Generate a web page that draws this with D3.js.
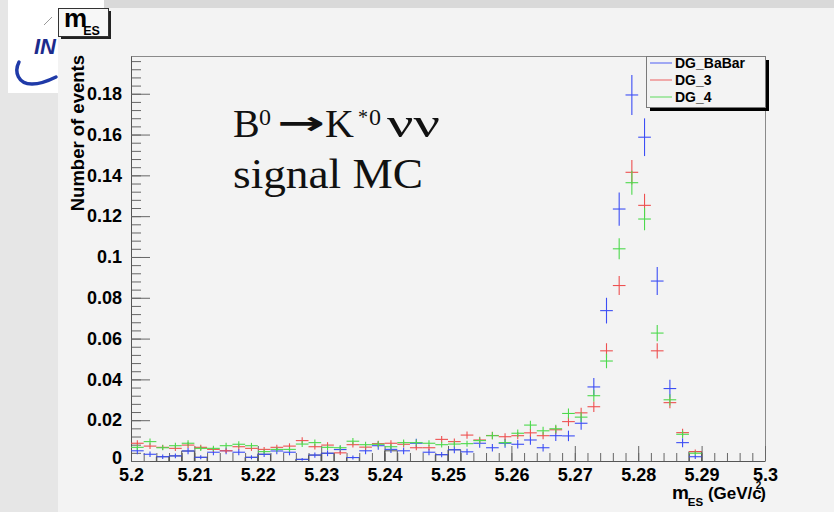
<!DOCTYPE html>
<html>
<head>
<meta charset="utf-8">
<script src="https://cdn.jsdelivr.net/npm/d3@7"></script>
<style>
  html, body { margin: 0; padding: 0; background: #e9e9e9; }
  svg { display: block; }
</style>
</head>
<body>
<div id="chart"></div>
<script>
var width  = 834;
var height = 512;

// ---- data ----
var binLow   = 5.2;
var binWidth = 0.002;

var seriesNames  = ["DG_BaBar", "DG_3", "DG_4"];
var seriesColors = ["#3c4ef5", "#ee5050", "#4cd94c"];
// event weight per series -> error = sqrt(content * weight)
var seriesWeights = [0.000538, 0.000256, 0.000256];

var dgBaBar = [0.0050, 0.0033, 0.0021, 0.0025, 0.0049, 0.0018, 0.0043, 0.0050, 0.0043, 0.0018,
               0.0033, 0.0049, 0.0043, 0.0008, 0.0029, 0.0038, 0.0056, 0.0017, 0.0050, 0.0075,
               0.0057, 0.0050, 0.0087, 0.0043, 0.0031, 0.0055, 0.0045, 0.0087, 0.0065, 0.0087,
               0.0082, 0.0103, 0.0065, 0.0124, 0.0123, 0.0185, 0.0363, 0.0737, 0.1235, 0.1794,
               0.1587, 0.0882, 0.0355, 0.0090, 0.0021, 0, 0, 0, 0, 0];

var dg3     = [0.0087, 0.0073, 0.0067, 0.0062, 0.0078, 0.0067, 0.0057, 0.0050, 0.0070, 0.0062,
               0.0057, 0.0067, 0.0073, 0.0100, 0.0070, 0.0078, 0.0040, 0.0080, 0.0068, 0.0085,
               0.0087, 0.0082, 0.0065, 0.0065, 0.0106, 0.0095, 0.0127, 0.0103, 0.0125, 0.0119,
               0.0124, 0.0138, 0.0124, 0.0153, 0.0193, 0.0236, 0.0266, 0.0540, 0.0860, 0.1415,
               0.1253, 0.0540, 0.0286, 0.0139, 0.0046, 0, 0, 0, 0, 0];

var dg4     = [0.0067, 0.0095, 0.0065, 0.0075, 0.0087, 0.0062, 0.0062, 0.0075, 0.0082, 0.0075,
               0.0046, 0.0057, 0.0057, 0.0083, 0.0090, 0.0067, 0.0065, 0.0097, 0.0080, 0.0082,
               0.0070, 0.0090, 0.0090, 0.0087, 0.0080, 0.0083, 0.0085, 0.0100, 0.0124, 0.0090,
               0.0136, 0.0176, 0.0148, 0.0158, 0.0233, 0.0215, 0.0320, 0.0490, 0.1040, 0.1364,
               0.1186, 0.0627, 0.0300, 0.0131, 0.0038, 0, 0, 0, 0, 0];

// bins where the grey histogram outline shows through near the baseline
var outlineBins = [2, 3, 4, 5, 9, 10, 13, 14, 15, 17, 20, 24, 25, 44];
var outlineValues = [0.0021, 0.0025, 0.0049, 0.0018, 0.0018, 0.0033, 0.0008, 0.0029, 0.0038,
                     0.0017, 0.0050, 0.0031, 0.0055, 0.0046];

var xTicks = [5.2, 5.21, 5.22, 5.23, 5.24, 5.25, 5.26, 5.27, 5.28, 5.29, 5.3];
var xTickLabels = ["5.2", "5.21", "5.22", "5.23", "5.24", "5.25", "5.26", "5.27", "5.28", "5.29", "5.3"];
var yTicks = [0, 0.02, 0.04, 0.06, 0.08, 0.1, 0.12, 0.14, 0.16, 0.18];
var yTickLabels = ["0", "0.02", "0.04", "0.06", "0.08", "0.1", "0.12", "0.14", "0.16", "0.18"];

var allSeries = [dgBaBar, dg3, dg4];

// ---- svg ----
var svg = d3.select("#chart")
    .append("svg")
    .attr("width", width)
    .attr("height", height);

// slide / pad background
svg.append('rect').attr('x', 0).attr('y', 0).attr('width', width).attr('height', height).attr('fill', '#e6e6e6');
svg.append('rect').attr('x', 58).attr('y', 8).attr('width', width - 58).attr('height', height - 8).attr('fill', '#f3f3f3');
svg.append('rect').attr('x', 104).attr('y', 0).attr('width', width - 104).attr('height', 8).attr('fill', '#d9d9d9');
svg.append('rect').attr('x', 8).attr('y', 0).attr('width', 96).attr('height', 8).attr('fill', '#ffffff');
svg.append('rect').attr('x', 8).attr('y', 0).attr('width', 50).attr('height', 93).attr('fill', '#ffffff');

// logo fragment
svg.append('path')
    .attr('d', 'M19,62 C14,72 18,84 32,84 C40,84 48,81 56,77')
    .attr('fill', 'none')
    .attr('stroke', '#1f3aa8')
    .attr('stroke-width', 3.5)
    .attr('stroke-linecap', 'round');
svg.append('path')
    .attr('d', 'M44,25 L52,17')
    .attr('stroke', '#999')
    .attr('stroke-width', 1);
svg.append('text')
    .attr('x', 34).attr('y', 54)
    .attr('font-family', 'Liberation Sans, Arial, sans-serif')
    .attr('font-weight', 'bold')
    .attr('font-style', 'italic')
    .attr('font-size', 22)
    .attr('fill', '#1c2b8c')
    .text('IN');

// ---- scales ----
var x = d3.scaleLinear().domain([5.2, 5.3]).range([131, 765]);
var y = d3.scaleLinear().domain([0, 0.1985]).range([461, 56]);

var font = 'Liberation Sans, Arial, Helvetica, sans-serif';

// frame top / right
svg.append('line').attr('x1', 131).attr('x2', 765).attr('y1', 56.5).attr('y2', 56.5).attr('stroke', '#8a8a8a');
svg.append('line').attr('x1', 765.5).attr('x2', 765.5).attr('y1', 56).attr('y2', 461).attr('stroke', '#8a8a8a');

// minor ticks
var xMinor = d3.range(0, 51).map(function(i) { return 5.2 + i * 0.002; });
var yMinor = d3.range(0, 50).map(function(i) { return i * 0.004; });

svg.append('g')
    .attr('transform', 'translate(0,461)')
    .call(d3.axisBottom(x).tickValues(xMinor).tickSize(-8).tickFormat(''))
    .call(function(g) { g.select('.domain').remove(); });

svg.append('g')
    .attr('transform', 'translate(131,0)')
    .call(d3.axisLeft(y).tickValues(yMinor).tickSize(-10).tickFormat(''))
    .call(function(g) { g.select('.domain').remove(); });

// major axes
var xAxis = d3.axisBottom(x)
    .tickValues(xTicks)
    .tickSizeInner(-15)
    .tickSizeOuter(0)
    .tickPadding(7)
    .tickFormat(function(d, i) { return xTickLabels[i]; });

var yAxis = d3.axisLeft(y)
    .tickValues(yTicks)
    .tickSizeInner(-19)
    .tickSizeOuter(0)
    .tickPadding(9)
    .tickFormat(function(d, i) { return yTickLabels[i]; });

var gx = svg.append('g').attr('transform', 'translate(0,461)').call(xAxis);
var gy = svg.append('g').attr('transform', 'translate(131,0)').call(yAxis);

svg.selectAll('.tick line').attr('stroke', '#666');
[gx, gy].forEach(function(g) {
  g.select('.domain').attr('stroke', '#555');
  g.selectAll('text')
    .attr('font-family', font)
    .attr('font-weight', 'bold')
    .attr('font-size', 18)
    .attr('fill', '#000');
});
// the "0" label sits a little higher, as in ROOT
gy.selectAll('.tick text').filter(function(d) { return d === 0; }).attr('dy', '0.12em');

// grey outline boxes near the baseline
var outline = svg.append('g');
outlineBins.forEach(function(b, i) {
  var x0 = x(binLow + b * binWidth), x1 = x(binLow + (b + 1) * binWidth);
  var yy = y(outlineValues[i]);
  outline.append('path')
    .attr('d', 'M' + x0 + ',461 V' + yy + ' H' + x1 + ' V461')
    .attr('fill', 'none')
    .attr('stroke', '#555')
    .attr('stroke-width', 1);
});

// ---- error-bar crosses ----
allSeries.forEach(function(values, s) {
  var g = svg.append('g')
      .attr('stroke', seriesColors[s])
      .attr('stroke-width', 1.1);

  values.forEach(function(v, b) {
    if (v <= 0) return;
    var e = Math.sqrt(v * seriesWeights[s]);
    var x0 = x(binLow + b * binWidth), x1 = x(binLow + (b + 1) * binWidth);
    var xc = (x0 + x1) / 2;
    g.append('line')
      .attr('x1', x0).attr('x2', x1)
      .attr('y1', y(v)).attr('y2', y(v));
    g.append('line')
      .attr('x1', xc).attr('x2', xc)
      .attr('y1', y(Math.max(0, v - e))).attr('y2', y(v + e));
  });
});

// ---- legend ----
svg.append('rect').attr('x', 650).attr('y', 60).attr('width', 119).attr('height', 51).attr('fill', '#000');
svg.append('rect').attr('x', 646.5).attr('y', 56.5).attr('width', 119).attr('height', 51)
    .attr('fill', '#f3f3f3').attr('stroke', '#7a7a7a');

seriesNames.forEach(function(name, i) {
  var ly = 63 + i * 17;
  svg.append('line')
    .attr('x1', 650).attr('x2', 672)
    .attr('y1', ly).attr('y2', ly)
    .attr('stroke', seriesColors[i])
    .attr('stroke-opacity', 0.75)
    .attr('stroke-width', 1.2);
  svg.append('text')
    .attr('x', 675).attr('y', ly + 5)
    .attr('font-family', font)
    .attr('font-weight', 'bold')
    .attr('font-size', 14)
    .text(name);
});

// ---- histogram title box ----
svg.append('rect').attr('x', 61).attr('y', 11).attr('width', 50).attr('height', 28).attr('fill', '#222');
svg.append('rect').attr('x', 58.5).attr('y', 8.5).attr('width', 50).attr('height', 28)
    .attr('fill', '#f7f7f7').attr('stroke', '#333');
var t = svg.append('text')
    .attr('x', 64).attr('y', 27)
    .attr('font-family', font)
    .attr('font-weight', 'bold')
    .attr('font-size', 26);
t.append('tspan').text('m');
t.append('tspan').attr('font-size', 12.5).attr('dy', 8).attr('dx', -4).text('ES');

// ---- axis titles ----
svg.append('text')
    .attr('transform', 'translate(84,55) rotate(-90)')
    .attr('text-anchor', 'end')
    .attr('font-family', font)
    .attr('font-weight', 'bold')
    .attr('font-size', 18.5)
    .text('Number of events');

var xt = svg.append('text')
    .attr('x', 766).attr('y', 499)
    .attr('text-anchor', 'end')
    .attr('font-family', font)
    .attr('font-weight', 'bold')
    .attr('font-size', 17);
xt.append('tspan').attr('font-size', 19).text('m');
xt.append('tspan').attr('font-size', 11.5).attr('dy', 7).attr('dx', -1).text('ES');
xt.append('tspan').attr('dy', -7).text(' (GeV/c');
xt.append('tspan').attr('font-size', 10).attr('dy', -10).attr('dx', -6).text('2');
xt.append('tspan').attr('dy', 10).attr('dx', -1).text(')');

// ---- annotation ----
var serif = 'Liberation Serif, Times New Roman, serif';
function note(str, px, py, size, extra) {
  var el = svg.append('text')
      .attr('x', px).attr('y', py)
      .attr('font-family', serif)
      .attr('font-size', size)
      .attr('fill', '#111')
      .text(str);
  if (extra) extra(el);
  return el;
}
note('B', 233, 137, 40);
note('0', 259, 125, 24);
svg.append('text')
    .attr('x', 277).attr('y', 134)
    .attr('font-family', 'DejaVu Sans, sans-serif')
    .attr('font-weight', 'bold')
    .attr('font-size', 32)
    .attr('fill', '#111')
    .attr('textLength', 48)
    .attr('lengthAdjust', 'spacingAndGlyphs')
    .text('\u2192');
note('K', 325, 137, 40);
note('*', 358, 124, 20);
note('0', 369, 125, 24);
note('\u03BD\u03BD', 387, 137, 40, function(el) {
  el.attr('textLength', 53).attr('lengthAdjust', 'spacingAndGlyphs');
});
note('signal MC', 233, 188, 42, function(el) {
  el.attr('textLength', 190).attr('lengthAdjust', 'spacingAndGlyphs');
});
</script>
</body>
</html>
